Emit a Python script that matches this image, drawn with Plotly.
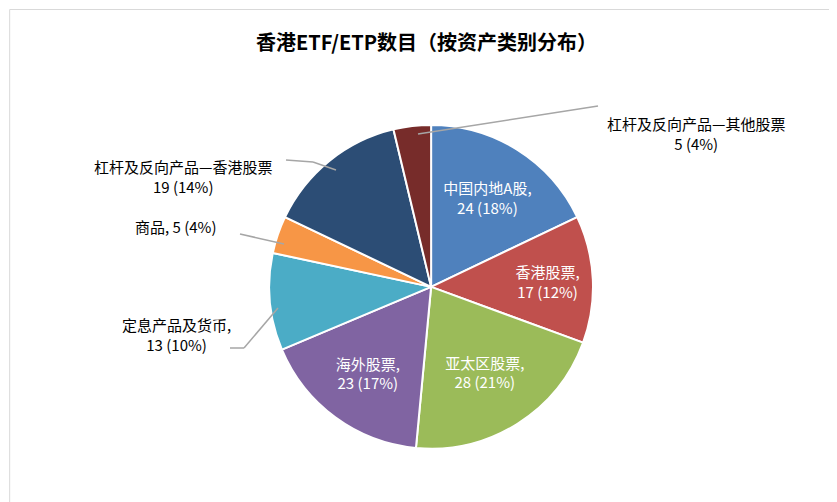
import plotly.graph_objects as go

labels = ["中国内地A股", "香港股票", "亚太区股票", "海外股票", "定息产品及货币",
          "商品", "杠杆及反向产品—香港股票", "杠杆及反向产品—其他股票"]
values = [24, 17, 28, 23, 13, 5, 19, 5]
percents = [18, 12, 21, 17, 10, 4, 14, 4]
colors = ["#4F81BD", "#C0504D", "#9BBB59", "#8064A2", "#4BACC6",
          "#F79646", "#2C4D75", "#772C2A"]
inside = [True, True, True, True, False, False, False, False]

texts = [f"{l},<br>{v} ({p}%)" if ins else ""
         for l, v, p, ins in zip(labels, values, percents, inside)]

fig = go.Figure(go.Pie(
    labels=labels, values=values, sort=False, direction="clockwise", rotation=0,
    marker=dict(colors=colors, line=dict(color="white", width=2)),
    text=texts, textinfo="text", textposition="inside",
    insidetextorientation="horizontal",
    textfont=dict(color="white", size=15, family="Noto Sans CJK SC"),
    hoverinfo="label+value+percent",
    domain=dict(x=[0.312, 0.699], y=[0.122, 0.767]),
    showlegend=False,
))

# outside labels: (label index, x, y)
outside = [(7, 688, 103), (6, 175, 146), (5, 168, 218), (4, 168, 326)]
anns = []
for i, x, y in outside:
    v, p = values[i], percents[i]
    if i == 5:
        t = f"{labels[i]}, {v} ({p}%)"
    elif i == 4:
        t = f"{labels[i]},<br>{v} ({p}%)"
    else:
        t = f"{labels[i]}<br>{v} ({p}%)"
    anns.append(dict(x=x / 837, y=1 - y / 502, xref="paper", yref="paper", text=t,
                     showarrow=False, xanchor="center", align="center",
                     font=dict(size=15, color="#000000", family="Noto Sans CJK SC")))

leaders = [[(590, 98), (410, 126)],
           [(278, 152), (305, 154), (328, 162)],
           [(232, 226), (276, 236)],
           [(222, 340), (236, 340), (270, 300)]]
shapes = []
for pts in leaders:
    for (x0, y0), (x1, y1) in zip(pts[:-1], pts[1:]):
        shapes.append(dict(type="line", xref="paper", yref="paper",
                           x0=x0 / 837, y0=1 - y0 / 502, x1=x1 / 837, y1=1 - y1 / 502,
                           line=dict(color="#A6A6A6", width=1.5)))
shapes.append(dict(type="rect", xref="paper", yref="paper", x0=0.002, y0=0.003,
                   x1=0.997, y1=0.997, line=dict(color="#D9D9D9", width=1)))

fig.update_layout(
    title=dict(text="<b>香港ETF/ETP数目（按资产类别分布）</b>", x=0.5, y=0.945,
               xanchor="center", font=dict(size=20, color="#000000",
                                           family="Noto Sans CJK SC")),
    annotations=anns, shapes=shapes,
    width=837, height=502, margin=dict(l=0, r=0, t=0, b=0),
    paper_bgcolor="white",
)
fig.write_html("out.html")
